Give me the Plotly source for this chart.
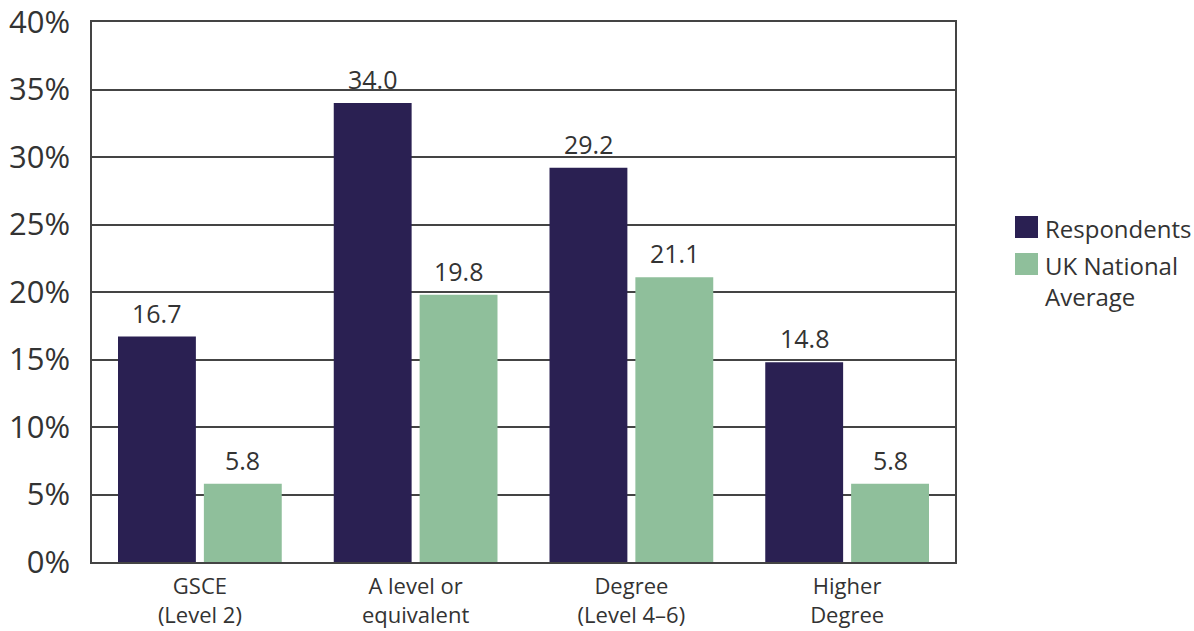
import plotly.graph_objects as go

categories = ["GSCE<br>(Level 2)", "A level or<br>equivalent", "Degree<br>(Level 4–6)", "Higher<br>Degree"]
series_names = ["Respondents", "UK National<br>Average"]
respondents = [16.7, 34.0, 29.2, 14.8]
uk_average = [5.8, 19.8, 21.1, 5.8]
colors = ["#2a2052", "#8fbf9b"]
tick_vals = [0, 5, 10, 15, 20, 25, 30, 35, 40]
tick_text = ["0%", "5%", "10%", "15%", "20%", "25%", "30%", "35%", "40%"]

font_family = "Open Sans, Noto Sans, sans-serif"
text_color = "#333333"

W, H = 1194, 631
ml, mt = 92, 22
pw, ph = 863, 540
mr, mb = W - ml - pw, H - mt - ph

fig = go.Figure()
for name, vals, col in zip(series_names, [respondents, uk_average], colors):
    fig.add_trace(go.Bar(
        name=name, x=categories, y=vals,
        marker=dict(color=col, line=dict(width=0)),
        showlegend=False,
    ))

# data labels above bars
offsets = [-43, 43]
for vals, dx in zip([respondents, uk_average], offsets):
    for cat, v in zip(categories, vals):
        fig.add_annotation(
            x=cat, y=v, xref="x", yref="y", text=f"{v:.1f}",
            showarrow=False, xshift=dx, yshift=5, yanchor="bottom",
            font=dict(size=25, color=text_color, family=font_family),
        )

# custom legend (large square swatches), positions in pixels
leg_x0, leg_x1 = 1015, 1038
leg_rows = [(216, 238), (253, 275)]
def px_to_paper_x(px):
    return (px - ml) / pw
def px_to_paper_y(py):
    return 1 - (py - mt) / ph
for (y0, y1), name, col in zip(leg_rows, series_names, colors):
    fig.add_shape(type="rect", xref="paper", yref="paper",
                  x0=px_to_paper_x(leg_x0), x1=px_to_paper_x(leg_x1),
                  y0=px_to_paper_y(y1), y1=px_to_paper_y(y0),
                  fillcolor=col, line=dict(width=0))
    fig.add_annotation(xref="paper", yref="paper",
                       x=px_to_paper_x(1043), y=px_to_paper_y(y0 - 6),
                       xanchor="left", yanchor="top", align="left",
                       text=name, showarrow=False,
                       font=dict(size=24, color=text_color, family=font_family))

fig.update_layout(
    width=W, height=H,
    margin=dict(l=ml, r=mr, t=mt, b=mb),
    paper_bgcolor="white", plot_bgcolor="white",
    barmode="group", bargap=0.204, bargroupgap=0.093,
    font=dict(family=font_family, color=text_color),
    showlegend=False,
)
fig.update_xaxes(
    showline=True, linecolor="#444444", linewidth=1.5, mirror=True,
    tickfont=dict(size=22, color=text_color, family=font_family),
    ticks="", showgrid=False, automargin=False, ticklabelstandoff=4,
    ticklabeloverflow="allow",
)
fig.update_yaxes(
    range=[0, 40], tickvals=tick_vals, ticktext=tick_text,
    showline=True, linecolor="#444444", linewidth=1.5, mirror=True,
    showgrid=True, gridcolor="#444444", gridwidth=1.5,
    tickfont=dict(size=31, color=text_color, family=font_family),
    ticks="", zeroline=False, automargin=False, ticklabelstandoff=14,
    ticklabeloverflow="allow",
)

fig.write_html("out.html",
               config={"displayModeBar": False},
               post_script="document.body.style.margin='0';document.body.style.overflow='hidden';")
